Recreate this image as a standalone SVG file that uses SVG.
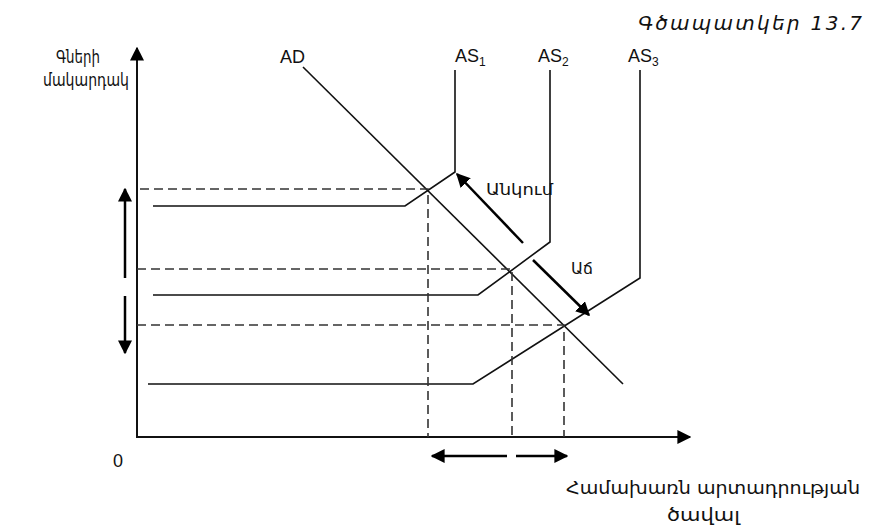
<svg xmlns="http://www.w3.org/2000/svg" width="877" height="525" viewBox="0 0 877 525">
<style>
.t{font-family:"Liberation Sans","Noto Sans",sans-serif;fill:#111}
.hy{font-family:"DejaVu Sans","Noto Sans",sans-serif;fill:#111}
.ln{fill:none;stroke:#111;stroke-width:1.6}
.ax{fill:none;stroke:#111;stroke-width:2}
.ds{fill:none;stroke:#333;stroke-width:1.6;stroke-dasharray:9,5}
.ar{fill:none;stroke:#000;stroke-width:2.5}
</style>
<defs>
<marker id="ahb" viewBox="0 0 10 10" refX="9" refY="5" markerWidth="14" markerHeight="14" markerUnits="userSpaceOnUse" orient="auto"><path d="M0,0 L10,5 L0,10 Z" fill="#000"/></marker>
</defs>
<text class="hy" x="862" y="30" font-size="20" font-style="italic" text-anchor="end" textLength="224" lengthAdjust="spacing">Գծապատկեր 13.7</text>
<g id="axes">
<line class="ax" x1="137" y1="437" x2="137" y2="48" marker-end="url(#ahb)"/>
<line class="ax" x1="136" y1="437" x2="690" y2="437" marker-end="url(#ahb)"/>
<text class="t" x="118" y="467" font-size="18" text-anchor="middle">0</text>
<text class="hy" x="56" y="63" font-size="17" textLength="44" lengthAdjust="spacingAndGlyphs">Գների</text>
<text class="hy" x="43" y="86" font-size="17" textLength="86" lengthAdjust="spacingAndGlyphs">մակարդակ</text>
<text class="hy" x="566" y="494" font-size="17" textLength="294" lengthAdjust="spacingAndGlyphs">Համախառն արտադրության</text>
<text class="hy" x="667" y="521" font-size="17" textLength="73" lengthAdjust="spacingAndGlyphs">ծավալ</text>
</g>
<g id="AD">
<line class="ln" x1="303" y1="67" x2="623" y2="384"/>
<text class="t" x="280" y="63" font-size="18">AD</text>
</g>
<g id="AS1">
<polyline class="ln" points="455,70 455,172 405,206 153,206"/>
<text class="t" x="455" y="62" font-size="18">AS<tspan font-size="12" dy="4">1</tspan></text>
</g>
<g id="AS2">
<polyline class="ln" points="550,70 550,242 478,295 153,295"/>
<text class="t" x="538" y="62" font-size="18">AS<tspan font-size="12" dy="4">2</tspan></text>
</g>
<g id="AS3">
<polyline class="ln" points="640,70 640,278 473,384 148,384"/>
<text class="t" x="628" y="62" font-size="18">AS<tspan font-size="12" dy="4">3</tspan></text>
</g>
<g id="connectors">
<polyline class="ds" points="140,189 428,189 428,437"/>
<polyline class="ds" points="137,269 512,269 512,437"/>
<polyline class="ds" points="137,325 564,325 564,437"/>
<line class="ar" x1="523" y1="243" x2="457" y2="174" marker-end="url(#ahb)"/>
<line class="ar" x1="533" y1="260" x2="589" y2="315" marker-end="url(#ahb)"/>
<line class="ar" x1="125" y1="278" x2="125" y2="189" marker-end="url(#ahb)"/>
<line class="ar" x1="125" y1="296" x2="125" y2="353" marker-end="url(#ahb)"/>
<line class="ar" x1="507" y1="456" x2="432" y2="456" marker-end="url(#ahb)"/>
<line class="ar" x1="516" y1="456" x2="567" y2="456" marker-end="url(#ahb)"/>
</g>
<g id="labels">
<text class="hy" x="486" y="195" font-size="16" textLength="67" lengthAdjust="spacingAndGlyphs">Անկում</text>
<text class="hy" x="571" y="274" font-size="16" textLength="22" lengthAdjust="spacingAndGlyphs">Աճ</text>
</g>
</svg>
